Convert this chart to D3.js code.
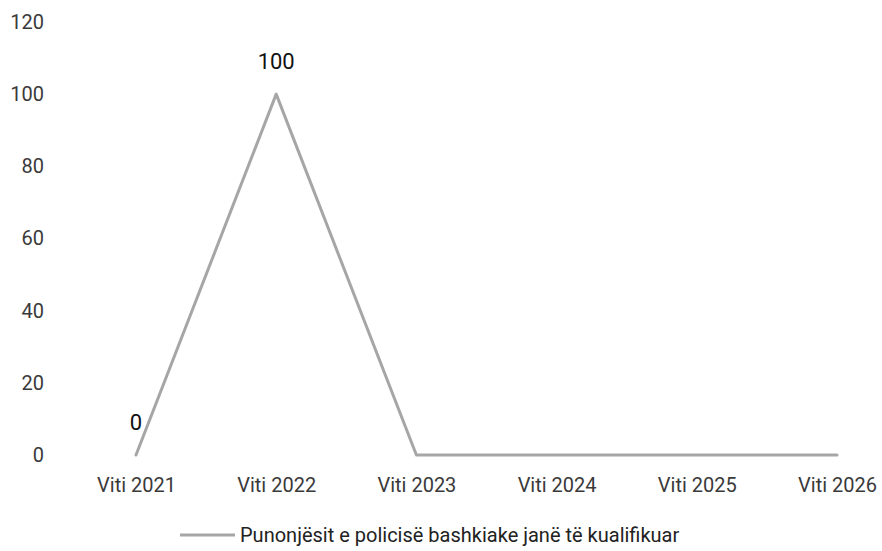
<!DOCTYPE html>
<html>
<head>
<meta charset="utf-8">
<script src="https://cdn.jsdelivr.net/npm/d3@7"></script>
<style>
  html, body { margin: 0; padding: 0; background: #fff; }
  svg { display: block; font-family: Roboto, "Noto Sans", sans-serif; }
</style>
</head>
<body>
<svg id="chart" width="882" height="551"></svg>
<script>
const categories = ["Viti 2021", "Viti 2022", "Viti 2023", "Viti 2024", "Viti 2025", "Viti 2026"];
const values = [0, 100, 0, 0, 0, 0];
const labeledIdx = [0, 1];
const yTicks = [0, 20, 40, 60, 80, 100, 120];
const seriesName = "Punonjësit e policisë bashkiake janë të kualifikuar";

const svg = d3.select("#chart");
const x = d3.scalePoint().domain(categories).range([136, 837]);
const y = d3.scaleLinear().domain([0, 120]).range([455, 22]);

// Y axis
const yAxis = svg.append("g").attr("transform", "translate(44,0)")
  .call(d3.axisLeft(y).tickValues(yTicks).tickSize(0).tickPadding(0));
yAxis.select(".domain").remove();
yAxis.selectAll("text").attr("font-size", 20).attr("fill", "#3a3a3a")
  .attr("font-family", "Roboto, sans-serif");

// X axis
const xAxis = svg.append("g").attr("transform", "translate(0,478)")
  .call(d3.axisBottom(x).tickSize(0).tickPadding(0));
xAxis.select(".domain").remove();
xAxis.selectAll("text").attr("font-size", 20).attr("fill", "#3a3a3a")
  .attr("font-family", "Roboto, sans-serif");

// Line
const line = d3.line().x((d, i) => x(categories[i])).y(d => y(d));
svg.append("path").datum(values)
  .attr("d", line)
  .attr("fill", "none")
  .attr("stroke", "#a6a6a6")
  .attr("stroke-width", 3)
  .attr("stroke-linejoin", "round")
  .attr("stroke-linecap", "round");

// Data labels
svg.selectAll("text.dl").data(labeledIdx).enter().append("text")
  .attr("class", "dl")
  .attr("x", i => x(categories[i]))
  .attr("y", i => y(values[i]) - 25)
  .attr("text-anchor", "middle")
  .attr("font-size", 22)
  .attr("fill", "#111")
  .text(i => values[i]);

// Legend
const lg = svg.append("g");
lg.append("line").attr("x1", 180).attr("x2", 235).attr("y1", 535).attr("y2", 535)
  .attr("stroke", "#a6a6a6").attr("stroke-width", 3);
lg.append("text").attr("x", 240).attr("y", 542).attr("font-size", 20)
  .attr("fill", "#222").text(seriesName);
</script>
</body>
</html>
